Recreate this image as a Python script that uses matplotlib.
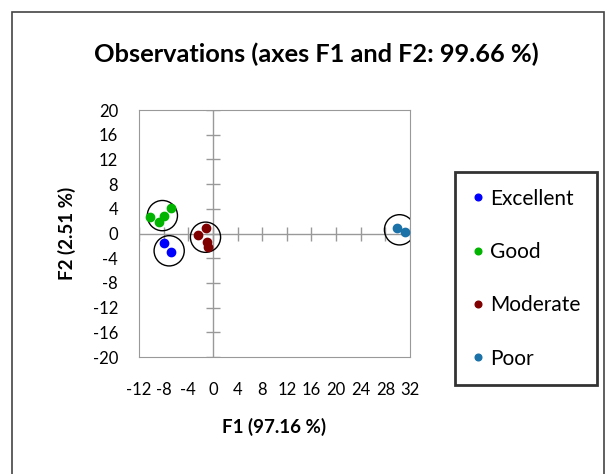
import matplotlib.pyplot as plt
from matplotlib.patches import Circle, Rectangle

plt.rcParams['font.family'] = ['Lato', 'DejaVu Sans']
plt.rcParams['axes.unicode_minus'] = False

# data
groups = ['Excellent', 'Good', 'Moderate', 'Poor']
colors = ['#0000FF', '#00B400', '#800000', '#1A72A8']
f1 = {
    'Excellent': [-8.0, -6.8],
    'Good': [-10.2, -8.7, -8.0, -6.8],
    'Moderate': [-2.4, -1.2, -1.0, -0.8],
    'Poor': [29.9, 31.2],
}
f2 = {
    'Excellent': [-1.6, -3.0],
    'Good': [2.7, 1.8, 2.8, 4.2],
    'Moderate': [-0.2, 0.9, -1.4, -2.2],
    'Poor': [0.9, 0.3],
}
# circles drawn around the groups (centre x, centre y)
rings = [(-8.2, 2.9), (-7.1, -2.8), (-1.2, -0.6), (30.3, 0.6)]
ring_r = 2.45

xticks = list(range(-12, 33, 4))
yticks = list(range(-20, 21, 4))

fig = plt.figure(figsize=(6.08, 4.74), dpi=100)
ax = fig.add_axes([0.2286, 0.2468, 0.4457, 0.5211])

# outer frame of the picture
fig.patches.append(Rectangle((12 / 608, -0.05), 592 / 608, 1 - 12 / 474 + 0.05,
                             transform=fig.transFigure, fill=False,
                             edgecolor='#444444', linewidth=1.2))

ax.set_xlim(-12, 32)
ax.set_ylim(-20, 20)
ax.set_xticks(xticks)
ax.set_yticks(yticks)
ax.tick_params(length=0, labelsize=12)
ax.tick_params(axis='x', pad=18)
ax.tick_params(axis='y', pad=15)
for s in ax.spines.values():
    s.set_color('#999999')

# cross lines through the origin with tick marks
ax.axhline(0, color='#999999', linewidth=1, zorder=1)
ax.axvline(0, color='#999999', linewidth=1, zorder=1)
ax.plot([0] * len(yticks), yticks, linestyle='none', marker='_', markersize=10,
        color='#999999', markeredgewidth=1, zorder=1)
ax.plot(xticks, [0] * len(xticks), linestyle='none', marker='|', markersize=10,
        color='#999999', markeredgewidth=1, zorder=1)

for g, c in zip(groups, colors):
    ax.plot(f1[g], f2[g], 'o', color=c, markersize=6, label=g, zorder=3)

for cx, cy in rings:
    ax.add_patch(Circle((cx, cy), ring_r, fill=False, edgecolor='black',
                        linewidth=1, zorder=2))

ax.set_xlabel('F1 (97.16 %)', fontsize=13.5, fontweight='bold', labelpad=14)
ax.set_ylabel('F2 (2.51 %)', fontsize=13.5, fontweight='bold', labelpad=12)
fig.text(0.52, 0.885, 'Observations (axes F1 and F2: 99.66 %)', fontsize=18.3,
         fontweight='bold', ha='center', va='center')

leg = fig.legend(loc='upper left', bbox_to_anchor=(455 / 608, 1 - 172 / 474),
                 frameon=True, fancybox=False, fontsize=15, markerscale=0.8,
                 handlelength=0.6, handletextpad=0.3, labelspacing=1.6,
                 borderpad=0.8, borderaxespad=0)
leg.get_frame().set_edgecolor('black')
leg.get_frame().set_linewidth(2)

fig.savefig('out.png', dpi=100)
